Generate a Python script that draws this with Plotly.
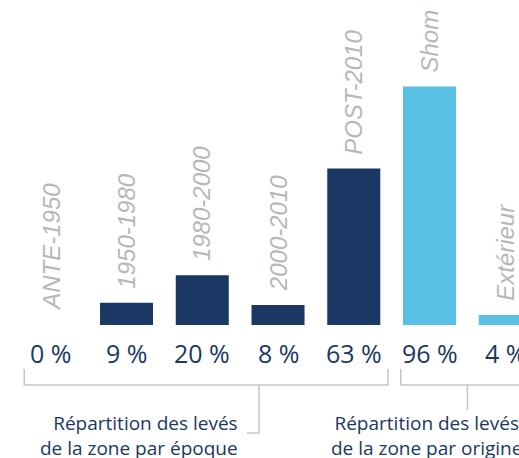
import plotly.graph_objects as go

categories = ["ANTE-1950", "1950-1980", "1980-2000", "2000-2010", "POST-2010", "Shom", "Extérieur"]
values = [0, 9, 20, 8, 63, 96, 4]
pct_labels = ["0 %", "9 %", "20 %", "8 %", "63 %", "96 %", "4 %"]
groups = ["epoque", "epoque", "epoque", "epoque", "epoque", "origine", "origine"]
group_text = {
    "epoque": "Répartition des levés<br>de la zone par époque",
    "origine": "Répartition des levés<br>de la zone par origine",
}

DARK = "#1b3864"
LIGHT = "#5bc0e6"
GRAY_TXT = "#b7b7b7"
GRAY_LINE = "#c6c6c6"

xs = list(range(len(categories)))
colors = [DARK if g == "epoque" else LIGHT for g in groups]

fig = go.Figure()
fig.add_trace(go.Bar(x=xs, y=values, marker=dict(color=colors, line=dict(width=0)),
                     width=0.7, hoverinfo="skip"))

annotations = []
for x, v, c, p in zip(xs, values, categories, pct_labels):
    annotations.append(dict(x=x, y=v, xref="x", yref="y", text=c, textangle=-90,
                            showarrow=False, xanchor="center", yanchor="bottom", yshift=12,
                            font=dict(family="Liberation Sans", size=24, color=GRAY_TXT, style="italic")))
    annotations.append(dict(x=x, y=0, xref="x", yref="paper", text=p, showarrow=False,
                            xanchor="center", yanchor="middle", yshift=-28,
                            font=dict(family="Open Sans", size=25, color=DARK)))

ep_idx = [i for i, g in enumerate(groups) if g == "epoque"]
or_idx = [i for i, g in enumerate(groups) if g == "origine"]

annotations.append(dict(x=ep_idx[2] + 0.5, y=-0.254, xref="x", yref="paper", text=group_text["epoque"],
                        showarrow=False, xanchor="right", yanchor="top", align="right",
                        font=dict(family="Open Sans", size=19, color=DARK)))
annotations.append(dict(x=or_idx[0] - 0.046, y=-0.254, xref="x", yref="paper", text=group_text["origine"],
                        showarrow=False, xanchor="center", yanchor="top", align="center",
                        font=dict(family="Open Sans", size=19, color=DARK)))

y_top, y_mid, y_low_l, y_low_r = -0.135, -0.1846, -0.332, -0.2615
line = dict(color=GRAY_LINE, width=1.5)
l0, l1 = ep_idx[0] - 0.35, ep_idx[-1] + 0.45
r0, r1 = or_idx[0] - 0.38, or_idx[-1] + 0.6
lc, rc = ep_idx[2] + 0.75, (or_idx[0] + or_idx[-1]) / 2
shapes = [
    dict(type="path", xref="x", yref="paper",
         path=f"M{l0},{y_top} L{l0},{y_mid} L{l1},{y_mid} L{l1},{y_top}", line=line),
    dict(type="path", xref="x", yref="paper",
         path=f"M{lc},{y_mid} L{lc},{y_low_l} L{lc - 0.16},{y_low_l}", line=line),
    dict(type="path", xref="x", yref="paper",
         path=f"M{r0},{y_top} L{r0},{y_mid} L{r1},{y_mid}", line=line),
    dict(type="line", xref="x", yref="paper", x0=rc, x1=rc, y0=y_mid, y1=y_low_r, line=line),
]

fig.update_layout(
    width=519, height=458,
    margin=dict(l=0, r=0, t=0, b=133),
    paper_bgcolor="white", plot_bgcolor="white",
    showlegend=False,
    xaxis=dict(range=[-0.67, 6.181], visible=False, fixedrange=True),
    yaxis=dict(range=[0, 130.8], visible=False, fixedrange=True),
    annotations=annotations,
    shapes=shapes,
)

fig.write_html("out.html", config={"displayModeBar": False},
               post_script="document.body.style.margin='0';document.body.style.overflow='hidden';")
